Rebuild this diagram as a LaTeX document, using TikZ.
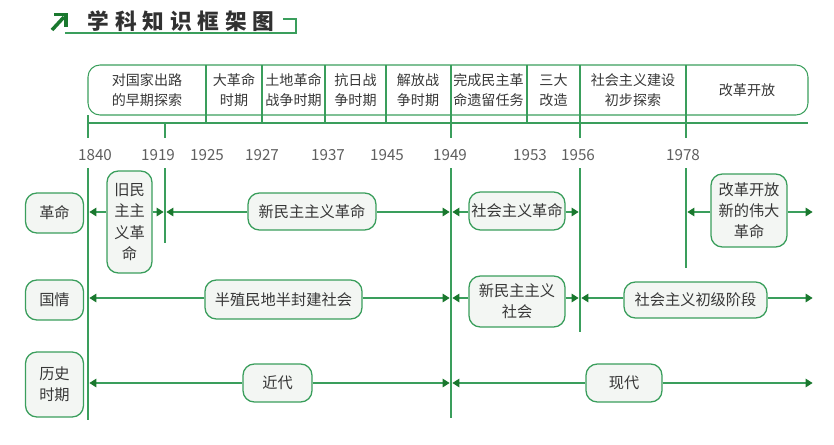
\documentclass[tikz,border=0pt]{standalone}
\usepackage{fontspec}
\setmainfont{Noto Sans CJK SC}
\usetikzlibrary{arrows.meta,positioning,calc}
\definecolor{tlline}{RGB}{58,158,92}
\definecolor{tltip}{RGB}{26,120,46}
\definecolor{tlfill}{RGB}{243,246,243}
\definecolor{tlink}{RGB}{55,55,55}
\definecolor{tlyear}{RGB}{95,95,95}
\newcommand{\ttlsp}{\hspace{5pt}}
\tikzset{
  tlbox/.style={
    draw=tlline, fill=tlfill, line width=1.1pt, rounded corners=3.4mm,
    align=center, inner sep=1pt, text=tlink,
    font=\fontsize{13}{18}\selectfont
  },
  lbl/.style={tlbox, minimum width=17.4mm, minimum height=12mm},
  era/.style={text=tlink, align=center, inner sep=0pt,
    font=\fontsize{12}{17}\selectfont},
  yr/.style={text=tlyear, inner sep=0pt, font=\fontsize{13}{15}\selectfont},
  vln/.style={draw=tlline, line width=0.9pt},
  arr/.style={-{Triangle[length=2.1mm,width=2.6mm,color=tltip]},
    draw=tlline, line width=0.9pt, shorten >=1.2pt},
  ttl/.style={text=tlink!90!black, inner sep=0pt, font=\fontsize{18.5}{20}\selectfont\bfseries}
}
\begin{document}
\begin{tikzpicture}[x=0.03cm, y=-0.03cm]
  \useasboundingbox (0,0) rectangle (834,445);
  % title
  \draw[line width=3pt, tltip] (52,30) -- (64,17);
  \draw[line width=3pt, tltip] (54,14.5) -- (66,14.5) -- (66,27);
  \node[ttl] (title) at (181,21) {学\ttlsp 科\ttlsp 知\ttlsp 识\ttlsp 框\ttlsp 架\ttlsp 图};
  \draw[vln] (65,33) -- (296,33) -- (296,19) -- (283,19);
  % header band
  \draw[vln, rounded corners=3.6mm] (88,115) -- (88,65) -- (808,65) -- (808,115) -- cycle;
  \draw[vln] (88,123) -- (808,123);
  \foreach \x in {206,262,325,386,451,527,580,686}
    \draw[vln] (\x,65) -- (\x,123);
  \draw[vln] (88,115) -- (88,138);
  \foreach \x in {165,451,580,686}
    \draw[vln] (\x,123) -- (\x,138);
  \node[era] (h1) at (147,90) {对国家出路\\的早期探索};
  \node[era] (h2) at (234,90) {大革命\\时期};
  \node[era] (h3) at (293.5,90) {土地革命\\战争时期};
  \node[era] (h4) at (355.5,90) {抗日战\\争时期};
  \node[era] (h5) at (418,90) {解放战\\争时期};
  \node[era] (h6) at (488.5,90) {完成民主革\\命遗留任务};
  \node[era] (h7) at (553.5,90) {三大\\改造};
  \node[era] (h8) at (633,90) {社会主义建设\\初步探索};
  \node[era] (h9) at (747,90) {改革开放};
  % years
  \foreach \x/\t in {95/1840,158/1919,207/1925,262/1927,328/1937,387/1945,450/1949,530/1953,578/1956,683/1978}
    \node[yr] at (\x,155) {\t};
  % time lines
  \coordinate (v1840) at (88,168);
  \coordinate (v1919) at (165,168);
  \coordinate (v1949) at (451,168);
  \coordinate (v1956) at (580,168);
  \coordinate (v1978) at (686,168);
  \coordinate (vend) at (814,168);
  \draw[vln] (v1840) -- ++(0,252);
  \draw[vln] (v1919) -- ++(0,75);
  \draw[vln] (v1949) -- ++(0,250);
  \draw[vln] (v1956) -- ++(0,164);
  \draw[vln] (v1978) -- ++(0,100);
  % rows
  \coordinate (r1) at (0,212);
  \coordinate (r2) at (0,298);
  \coordinate (r3) at (0,383);
  \node[lbl] (gm) at (54.5,213) {革命};
  \node[lbl] (gq) at (54.5,300) {国情};
  \node[lbl, minimum height=19.5mm] (ls) at (54.5,384.5) {历史\\时期};
  \node[tlbox, minimum width=13.5mm, minimum height=30.6mm] (jm) at (129.5,222) {旧民\\主主\\义革\\命};
  \node[tlbox, minimum width=38.4mm, minimum height=11.1mm] (xm) at (312,211.5) {新民主主义革命};
  \node[tlbox, minimum width=28.8mm, minimum height=11.4mm] (sg) at (517,211) {社会主义革命};
  \node[tlbox, minimum width=22.8mm, minimum height=21.9mm] (gk) at (749,210.5) {改革开放\\新的伟大\\革命};
  \node[tlbox, minimum width=47.1mm, minimum height=11.7mm] (bz) at (283.5,299.5) {半殖民地半封建社会};
  \node[tlbox, minimum width=28.8mm, minimum height=15.3mm] (xs) at (517,301.5) {新民主主义\\社会};
  \node[tlbox, minimum width=42.9mm, minimum height=10.8mm] (cj) at (695.5,300) {社会主义初级阶段};
  \node[tlbox, minimum width=20.7mm, minimum height=11.4mm] (jd) at (277.5,383) {近代};
  \node[tlbox, minimum width=22.8mm, minimum height=11.4mm] (xd) at (624,383) {现代};
  \draw[arr] (jm.west |- r1) -- (v1840 |- r1);
  \draw[arr] (jm.east |- r1) -- (v1919 |- r1);
  \draw[arr] (xm.west |- r1) -- (v1919 |- r1);
  \draw[arr] (xm.east |- r1) -- (v1949 |- r1);
  \draw[arr] (sg.west |- r1) -- (v1949 |- r1);
  \draw[arr] (sg.east |- r1) -- (v1956 |- r1);
  \draw[arr] (gk.west |- r1) -- (v1978 |- r1);
  \draw[arr] (gk.east |- r1) -- (vend |- r1);
  \draw[arr] (bz.west |- r2) -- (v1840 |- r2);
  \draw[arr] (bz.east |- r2) -- (v1949 |- r2);
  \draw[arr] (xs.west |- r2) -- (v1949 |- r2);
  \draw[arr] (xs.east |- r2) -- (v1956 |- r2);
  \draw[arr] (cj.west |- r2) -- (v1956 |- r2);
  \draw[arr] (cj.east |- r2) -- (vend |- r2);
  \draw[arr] (jd.west |- r3) -- (v1840 |- r3);
  \draw[arr] (jd.east |- r3) -- (v1949 |- r3);
  \draw[arr] (xd.west |- r3) -- (v1949 |- r3);
  \draw[arr] (xd.east |- r3) -- (vend |- r3);
\end{tikzpicture}
\end{document}
